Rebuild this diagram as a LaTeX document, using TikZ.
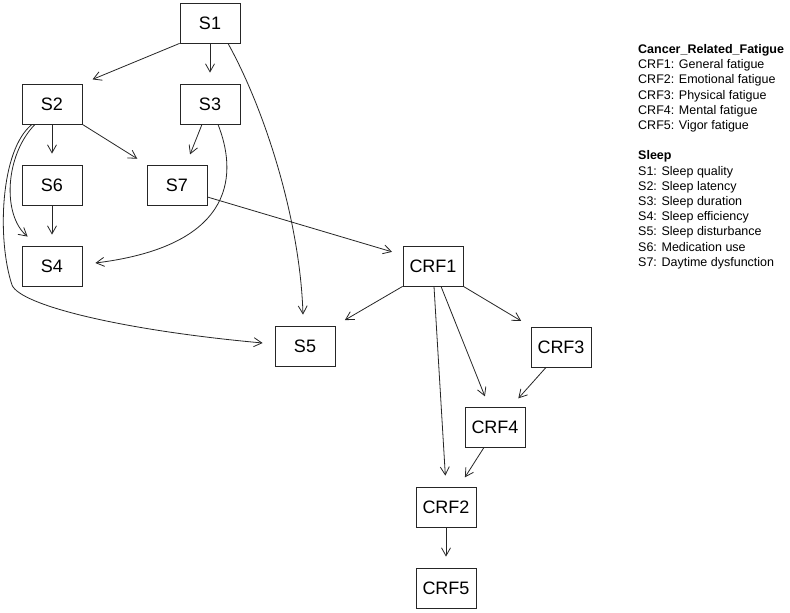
\documentclass[tikz,border=0pt]{standalone}
\usepackage{fontspec}
\setmainfont{Liberation Sans}
\usetikzlibrary{arrows.meta,calc}
\begin{document}
\begin{tikzpicture}[x=1pt,y=-1pt,
  box/.style={draw=black!85,line width=0.8pt,minimum width=60pt,minimum height=40pt,inner sep=0pt,
    font=\fontsize{18}{18}\selectfont,text=black},
  edge/.style={draw=black!85,line width=0.8pt,-{Straight Barb[length=8pt,width=9pt]},shorten >=11pt},
  cedge/.style={draw=black!85,line width=0.8pt,-{Straight Barb[length=8pt,width=9pt]}},
  leg/.style={anchor=base west,inner sep=0pt,font=\fontsize{12.5}{15}\selectfont,text=black}]
\useasboundingbox[fill=white] (0,0) rectangle (790,613);
% nodes
\node[box] (S1) at (210,23) {S1};
\node[box] (S2) at (52,104) {S2};
\node[box] (S3) at (210,104) {S3};
\node[box] (S6) at (52,185) {S6};
\node[box] (S7) at (177,185) {S7};
\node[box] (S4) at (52,266) {S4};
\node[box] (S5) at (305,346) {S5};
\node[box] (CRF1) at (433,266) {CRF1};
\node[box] (CRF3) at (561,347) {CRF3};
\node[box] (CRF4) at (495,427) {CRF4};
\node[box] (CRF2) at (446,507) {CRF2};
\node[box] (CRF5) at (446,588) {CRF5};
% straight edges
\draw[edge] (S1.south west) -- (S2.north east);
\draw[edge] (S1.south) -- (S3.north);
\draw[edge] (S2.south) -- (S6.north);
\draw[edge] (S2.south east) -- (S7.north west);
\draw[edge] ($(S3.south)+(-8,0)$) -- ($(S7.north)+(9,0)$);
\draw[edge] (S6.south) -- (S4.north);
\draw[edge] ($(S7.east)+(0,12)$) -- ($(CRF1.west)+(0,-11)$);
\draw[edge] (CRF1.south west) -- (S5.north east);
\draw[edge] (CRF1.south east) -- (CRF3.north west);
\draw[edge] ($(CRF1.south)+(8,0)$) -- ($(CRF4.north)+(-6,0)$);
\draw[edge] ($(CRF1.south)+(1,0)$) -- (CRF2.north);
\draw[edge] ($(CRF3.south)+(-15,0)$) -- ($(CRF4.north)+(16,0)$);
\draw[edge] ($(CRF4.south)+(-11,0)$) -- ($(CRF2.north)+(13,0)$);
\draw[edge] (CRF2.south) -- (CRF5.north);
% curved edges
\draw[cedge] ($(S1.south)+(18,0)$) .. controls (265,110) and (300,220) .. ($(S5.north)+(-2,-11)$);
\draw[cedge] ($(S2.south)+(-17,0)$) .. controls (5,155) and (2,215) .. ($(S4.north west)+(6,-9)$);
\draw[cedge] ($(S2.south)+(-20,0)$) .. controls (0,150) and (-3,240) .. (12,285)
   .. controls (20,305) and (120,330) .. ($(S5.west)+(-12,-3)$);
\draw[cedge] ($(S3.south)+(8,0)$) .. controls (236,170) and (240,245) .. ($(S4.east)+(13,-3)$);
% legend
\node[leg] (L0) at (638,53.5) {\textbf{Cancer\_Related\_Fatigue}};
\node[leg] (L1) at (638,68.7) {CRF1: General fatigue};
\node[leg] (L2) at (638,83.9) {CRF2: Emotional fatigue};
\node[leg] (L3) at (638,99.1) {CRF3: Physical fatigue};
\node[leg] (L4) at (638,114.3) {CRF4: Mental fatigue};
\node[leg] (L5) at (638,129.5) {CRF5: Vigor fatigue};
\node[leg] (L7) at (638,159.9) {\textbf{Sleep}};
\node[leg] (L8) at (638,175.1) {S1: Sleep quality};
\node[leg] (L9) at (638,190.3) {S2: Sleep latency};
\node[leg] (L10) at (638,205.5) {S3: Sleep duration};
\node[leg] (L11) at (638,220.7) {S4: Sleep efficiency};
\node[leg] (L12) at (638,235.9) {S5: Sleep disturbance};
\node[leg] (L13) at (638,251.1) {S6: Medication use};
\node[leg] (L14) at (638,266.3) {S7: Daytime dysfunction};
\end{tikzpicture}
\end{document}
